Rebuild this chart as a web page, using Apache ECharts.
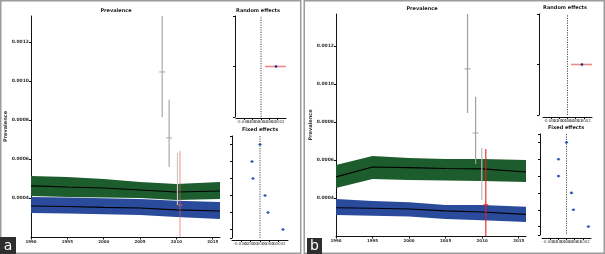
<!DOCTYPE html>
<html>
<head>
<meta charset="utf-8">
<script src="https://cdn.jsdelivr.net/npm/echarts@6/dist/echarts.min.js"></script>
<style>html,body{margin:0;padding:0;background:#fff}#main{width:605px;height:254px}</style>
</head>
<body>
<div id="main"></div>
<script>
(function () {
  'use strict';

  // ---- data ----
  var bandYears = [1990, 1995, 2000, 2005, 2010, 2016];

  // panel a
  var greenMidA = [0.000462, 0.000456, 0.000451, 0.000441, 0.000431, 0.000436];
  var greenLoA  = [0.000410, 0.000405, 0.000402, 0.000400, 0.000390, 0.000395];
  var greenHiA  = [0.000513, 0.000508, 0.000497, 0.000482, 0.000472, 0.000482];
  var blueMidA  = [0.000359, 0.000356, 0.000352, 0.000349, 0.000339, 0.000333];
  var blueLoA   = [0.000323, 0.000320, 0.000317, 0.000313, 0.000302, 0.000292];
  var blueHiA   = [0.000405, 0.000402, 0.000399, 0.000395, 0.000386, 0.000379];

  // panel b
  var greenMidB = [0.000511, 0.000563, 0.000560, 0.000555, 0.000553, 0.000537];
  var greenLoB  = [0.000453, 0.000500, 0.000495, 0.000492, 0.000489, 0.000484];
  var greenHiB  = [0.000574, 0.000621, 0.000611, 0.000605, 0.000605, 0.000600];
  var blueMidB  = [0.000349, 0.000346, 0.000342, 0.000332, 0.000326, 0.000314];
  var blueLoB   = [0.000310, 0.000306, 0.000302, 0.000290, 0.000283, 0.000274];
  var blueHiB   = [0.000395, 0.000384, 0.000377, 0.000363, 0.000363, 0.000354];

  // study estimates on the prevalence plots
  var studyYearA = [2008.05, 2009.0, 2010.15, 2010.5];
  var studyEstA  = [0.001046, 0.000708, 0.000497, 0.000364];
  var studyLoA   = [0.000815, 0.000559, 0.000364, 0.000200];
  var studyHiA   = [0.001333, 0.000903, 0.000631, 0.000641];

  var studyYearB = [2008.0, 2009.1, 2009.95, 2010.5];
  var studyEstB  = [0.001079, 0.000742, 0.000526, 0.000363];
  var studyLoB   = [0.000847, 0.000579, 0.000389, 0.000200];
  var studyHiB   = [0.001368, 0.000932, 0.000663, 0.000658];

  // random effects (one row): estimate, low, high
  var randomA = [0.000180, 0.000048, 0.000300];
  var randomB = [0.000177, 0.000043, 0.000300];

  // fixed effects, rows 1..6 top to bottom
  var fixedRows = [1, 2, 3, 4, 5, 6];
  var fixedA = [0.0000, -0.000086, -0.000075, 0.000054, 0.000086, 0.000246];
  var fixedB = [0.0000, -0.000098, -0.000098, 0.000061, 0.000085, 0.000268];

  var myChart = echarts.init(document.getElementById('main'), null, {renderer: 'canvas'});

  var FONT = 'DejaVu Sans';
  var studyColorsA = ['#a9a9a9', '#a9a9a9', '#c4c8cc', 'rgba(232,90,80,0.55)'];
  var studyColorsB = ['#a0a0a0', '#a0a0a0', '#b8bcc0', 'rgba(230,30,30,0.9)'];

  function zip(xs, ys) {
    return xs.map(function (x, i) { return [x, ys[i]]; });
  }

  function bandSeries(ax, lo, hi, color) {
    var pts = bandYears.map(function (y, i) { return [y, lo[i], hi[i]]; });
    return {
      type: 'custom', xAxisIndex: ax, yAxisIndex: ax, silent: true, z: 2,
      data: pts,
      encode: {x: 0, y: [1, 2]},
      renderItem: function (params, api) {
        if (params.dataIndex !== 0) return null;
        var up = pts.map(function (p) { return api.coord([p[0], p[2]]); });
        var dn = pts.map(function (p) { return api.coord([p[0], p[1]]); }).reverse();
        return {type: 'polygon', shape: {points: up.concat(dn)}, style: {fill: color}};
      }
    };
  }

  function midLine(ax, mid) {
    return {
      type: 'line', xAxisIndex: ax, yAxisIndex: ax, data: zip(bandYears, mid),
      symbol: 'none', silent: true, z: 3,
      lineStyle: {color: '#000', width: 1.1}
    };
  }

  function studySeries(ax, xs, est, lo, hi, colors) {
    var data = xs.map(function (x, i) { return [x, lo[i], est[i], hi[i]]; });
    return {
      type: 'custom', xAxisIndex: ax, yAxisIndex: ax, silent: true, z: 5,
      data: data,
      encode: {x: 0, y: [1, 2, 3]},
      renderItem: function (params, api) {
        var i = params.dataIndex;
        var x = api.value(0);
        var a = api.coord([x, api.value(1)]);
        var m = api.coord([x, api.value(2)]);
        var b = api.coord([x, api.value(3)]);
        var c = colors[i];
        var kids = [{type: 'line', shape: {x1: a[0], y1: a[1], x2: b[0], y2: b[1]},
                     style: {stroke: c, lineWidth: 1.2}}];
        if (i < 2) {
          kids.push({type: 'line', shape: {x1: m[0] - 3, y1: m[1], x2: m[0] + 3, y2: m[1]},
                     style: {stroke: c, lineWidth: 1}});
        } else if (i === 3) {
          kids.push({type: 'line', shape: {x1: m[0] - 2.5, y1: m[1], x2: m[0] + 2.5, y2: m[1]},
                     style: {stroke: c, lineWidth: 1.5}});
        }
        return {type: 'group', children: kids};
      }
    };
  }

  function effectSeries(ax, rows, est, lo, hi, segColor, dotColor, barHalf) {
    var data = rows.map(function (r, i) {
      return [est[i], r, lo ? lo[i] : est[i], hi ? hi[i] : est[i]];
    });
    return {
      type: 'custom', xAxisIndex: ax, yAxisIndex: ax, silent: true, z: 5,
      data: data,
      encode: {x: [0, 2, 3], y: 1},
      renderItem: function (params, api) {
        var y = api.value(1);
        var p = api.coord([api.value(0), y]);
        var a = api.coord([api.value(2), y]);
        var b = api.coord([api.value(3), y]);
        var kids = [];
        if (b[0] - a[0] > 1) {
          kids.push({type: 'line', shape: {x1: a[0], y1: a[1], x2: b[0], y2: b[1]},
                     style: {stroke: segColor, lineWidth: 1.6}});
        } else {
          kids.push({type: 'line', shape: {x1: p[0] - barHalf, y1: p[1], x2: p[0] + barHalf, y2: p[1]},
                     style: {stroke: segColor, lineWidth: 0.8}});
        }
        kids.push({type: 'circle', shape: {cx: p[0], cy: p[1], r: 1.3}, style: {fill: dotColor}});
        return {type: 'group', children: kids};
      }
    };
  }

  function zeroLine(ax, ymin, ymax) {
    return {
      type: 'line', xAxisIndex: ax, yAxisIndex: ax, data: [[0, ymin], [0, ymax]],
      symbol: 'none', silent: true, z: 4,
      lineStyle: {color: '#222', width: 0.8, type: [1.2, 1.2]}
    };
  }

  var axisLine = {onZero: false, lineStyle: {color: '#111', width: 1}};

  function mainX(g) {
    return {
      type: 'value', gridIndex: g, min: 1990, max: 2016, interval: 5,
      axisLine: axisLine,
      axisTick: {length: 2.5, lineStyle: {color: '#111'}},
      axisLabel: {fontSize: 4, fontFamily: FONT, fontWeight: 'bold', color: '#333', margin: 2.5,
                  showMaxLabel: false, formatter: function (v) { return String(v); }},
      splitLine: {show: false}
    };
  }
  function mainY(g, max) {
    return {
      type: 'value', gridIndex: g, min: 0.0002, max: max, interval: 0.0002,
      name: 'Prevalence', nameLocation: 'middle', nameGap: 18, nameRotate: 90,
      nameTextStyle: {fontSize: 5, fontFamily: FONT, fontWeight: 'bold', color: '#333'},
      axisLine: axisLine,
      axisTick: {length: 2, lineStyle: {color: '#111'}},
      axisLabel: {fontSize: 4.5, fontFamily: FONT, fontWeight: 'bold', color: '#333', margin: 2,
                  showMinLabel: false, showMaxLabel: false,
                  formatter: function (v) { return v.toFixed(4); }},
      splitLine: {show: false}
    };
  }
  function smallX(g, off) {
    return {
      type: 'value', gridIndex: g, min: -0.0003, max: 0.0003, interval: 0.0001, offset: off,
      axisLine: axisLine,
      axisTick: {length: 2, lineStyle: {color: '#111'}},
      axisLabel: {fontSize: 4, fontFamily: FONT, color: '#444', margin: 1.5,
                  formatter: function (v) { return v.toFixed(4); }},
      splitLine: {show: false}
    };
  }
  function smallY(g, off, min, max, ticks, inverse) {
    return {
      type: 'value', gridIndex: g, min: min, max: max, offset: off, inverse: !!inverse,
      axisLine: axisLine,
      axisTick: {length: 2, lineStyle: {color: '#111'}, customValues: ticks},
      axisLabel: {show: false},
      splitLine: {show: false}
    };
  }

  function txt(x, y, s, size) {
    return {
      type: 'text', x: x, y: y, silent: true,
      style: {text: s, font: 'bold ' + size + 'px ' + FONT, fill: '#222',
              align: 'center', verticalAlign: 'middle', textAlign: 'center', textVerticalAlign: 'middle'}
    };
  }

  var option = {
    backgroundColor: '#fff',
    animation: false,
    grid: [
      {left: 31, top: 16, width: 189, height: 221},   // 0 a prevalence
      {left: 236, top: 16, width: 50, height: 101},   // 1 a random
      {left: 232, top: 136, width: 56, height: 102},  // 2 a fixed
      {left: 336, top: 14, width: 190, height: 222},  // 3 b prevalence
      {left: 543, top: 14, width: 49, height: 101},   // 4 b random
      {left: 542, top: 134, width: 49, height: 101}   // 5 b fixed
    ],
    xAxis: [
      mainX(0), smallX(1, 1), smallX(2, 2),
      mainX(3), smallX(4, 2), smallX(5, 3)
    ],
    yAxis: [
      mainY(0, 0.001333),
      smallY(1, 1, 0, 2, [0, 1, 2]),
      smallY(2, 0, 0.5, 6.5, [0.5, 1, 2, 3, 4, 5, 6, 6.5], true),
      mainY(3, 0.001368),
      smallY(4, 4, 0, 2, [0, 1, 2]),
      smallY(5, 2, 0.5, 6.5, [0.5, 1, 2, 3, 4, 5, 6, 6.5], true)
    ],
    series: [
      bandSeries(0, greenLoA, greenHiA, '#1d5c2c'),
      bandSeries(0, blueLoA, blueHiA, '#2a4a9c'),
      midLine(0, greenMidA), midLine(0, blueMidA),
      studySeries(0, studyYearA, studyEstA, studyLoA, studyHiA, studyColorsA),
      zeroLine(1, 0, 2),
      effectSeries(1, [1], [randomA[0]], [randomA[1]], [randomA[2]], '#f08a8a', '#1c2a80', 0),
      zeroLine(2, 0.5, 6.5),
      effectSeries(2, fixedRows, fixedA, null, null, '#5b7bd0', '#2f4fb0', 1.8),

      bandSeries(3, greenLoB, greenHiB, '#1d5c2c'),
      bandSeries(3, blueLoB, blueHiB, '#2a4a9c'),
      midLine(3, greenMidB), midLine(3, blueMidB),
      studySeries(3, studyYearB, studyEstB, studyLoB, studyHiB, studyColorsB),
      zeroLine(4, 0, 2),
      effectSeries(4, [1], [randomB[0]], [randomB[1]], [randomB[2]], '#f08a8a', '#1c2a80', 0),
      zeroLine(5, 0.5, 6.5),
      effectSeries(5, fixedRows, fixedB, null, null, '#5b7bd0', '#2f4fb0', 1.8)
    ],
    graphic: [
      {type: 'rect', shape: {x: 0.75, y: 0.75, width: 300, height: 252.5}, silent: true,
       style: {fill: 'none', stroke: '#9c9c9c', lineWidth: 1.5}},
      {type: 'rect', shape: {x: 304.25, y: 0.75, width: 300, height: 252.5}, silent: true,
       style: {fill: 'none', stroke: '#9c9c9c', lineWidth: 1.5}},
      txt(116, 11, 'Prevalence', 5),
      txt(258, 11, 'Random effects', 5),
      txt(260, 130, 'Fixed effects', 5),
      txt(422, 9, 'Prevalence', 5),
      txt(565, 8, 'Random effects', 5),
      txt(566, 128, 'Fixed effects', 5),
      {type: 'rect', shape: {x: 0, y: 237, width: 16, height: 17}, silent: true, style: {fill: '#2e2e2e'}},
      {type: 'text', x: 8, y: 246, silent: true,
       style: {text: 'a', font: '14px ' + FONT, fill: '#fff', align: 'center', verticalAlign: 'middle',
               textAlign: 'center', textVerticalAlign: 'middle'}},
      {type: 'rect', shape: {x: 307, y: 238, width: 15, height: 16}, silent: true, style: {fill: '#2e2e2e'}},
      {type: 'text', x: 314.5, y: 246, silent: true,
       style: {text: 'b', font: '14px ' + FONT, fill: '#fff', align: 'center', verticalAlign: 'middle',
               textAlign: 'center', textVerticalAlign: 'middle'}}
    ]
  };

  myChart.setOption(option);
}());
</script>
</body>
</html>
